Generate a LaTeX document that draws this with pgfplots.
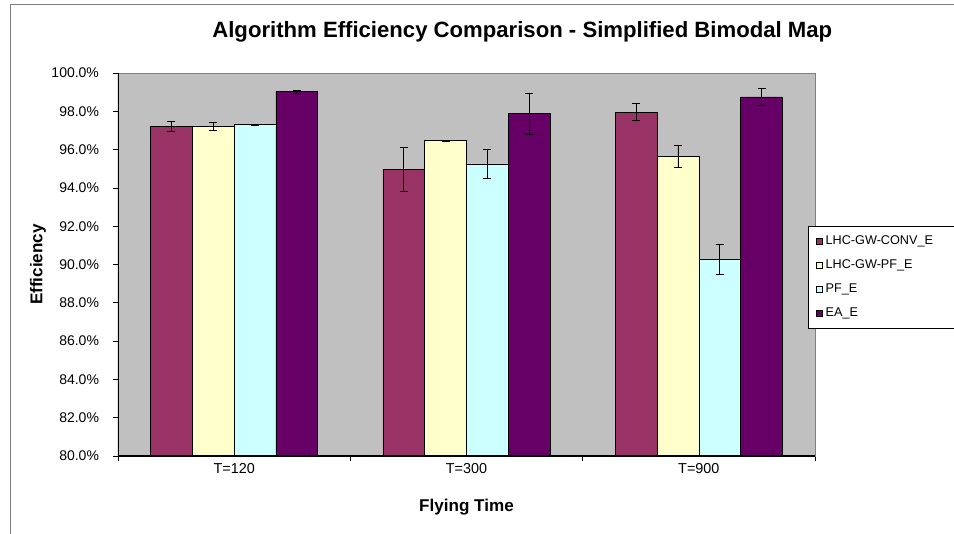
\documentclass[border=0pt]{standalone}
\usepackage{fontspec}
\setmainfont{Liberation Sans}
\usepackage{pgfplots}
\pgfplotsset{compat=1.18}
\definecolor{cA}{HTML}{993366}
\definecolor{cB}{HTML}{FFFFCC}
\definecolor{cC}{HTML}{CCFFFF}
\definecolor{cD}{HTML}{660066}
\definecolor{bg}{HTML}{C0C0C0}
\definecolor{frame}{HTML}{808080}
\begin{document}
\begin{tikzpicture}
\useasboundingbox (-88.5pt,-57.75pt) rectangle (627pt,342pt);
\draw[frame, line width=0.6pt] (-81pt,-70pt) -- (-81pt,339pt) -- (640pt,339pt);
\begin{axis}[
  at={(0pt,0pt)}, anchor=south west,
  scale only axis, width=522.75pt, height=287.25pt,
  xmin=-0.5, xmax=2.5, ymin=80, ymax=100,
  ybar=0pt, bar width=0.18,
  axis background/.style={fill=bg},
  axis line style={draw=frame, line width=0.6pt},
  /pgf/number format/assume math mode=true,
  tick align=outside, major tick length=3.75pt,
  tick style={black, line width=0.5pt},
  ytick pos=left, xtick pos=bottom,
  ytick={80,82,...,100},
  yticklabel={\pgfmathprintnumber[fixed,fixed zerofill,precision=1]{\tick}\%},
  yticklabel style={font=\fontsize{10.5}{12.5}\selectfont, xshift=-7pt},
  xtick={-0.5,0.5,1.5,2.5}, xticklabels={},
  extra x ticks={0,1,2}, extra x tick labels={T=120,T=300,T=900},
  extra x tick style={major tick length=0pt, xticklabel style={font=\fontsize{10.8}{13}\selectfont, yshift=-2pt}},
  xlabel={Flying Time}, ylabel={Efficiency},
  xlabel style={at={(axis description cs:0.5,0)}, anchor=center, yshift=-38.5pt, font=\bfseries\fontsize{12.8}{15}\selectfont},
  ylabel style={at={(axis description cs:-0.1148,0.5)}, anchor=center, font=\bfseries\fontsize{12.8}{15}\selectfont},
  title={Algorithm Efficiency Comparison - Simplified Bimodal Map},
  title style={at={(axis description cs:0.58,1.086)}, anchor=center, font=\bfseries\fontsize{16.6}{19}\selectfont},
  legend style={at={(axis description cs:0.99,0.6005)}, anchor=north west, draw=black, fill=white,
    font=\fontsize{9.5}{11}\selectfont, row sep=6pt, inner xsep=6pt, inner ysep=5pt,
    cells={anchor=west, text width=92pt}},
  legend cell align=left,
  legend image code/.code={\draw[#1, draw=black, line width=0.4pt] (0pt,-2.3pt) rectangle (4.6pt,2.3pt);},
  error bars/y dir=both, error bars/y explicit,
  error bars/error bar style={black, line width=0.6pt},
  error bars/error mark options={rotate=90, mark size=3pt, black, line width=0.6pt},
]
\addplot[fill=cA, draw=black, line width=0.5pt, bar shift=-0.27] coordinates {(0,97.22) +- (0,0.25) (1,94.95) +- (0,1.15) (2,97.95) +- (0,0.45)};
\addplot[fill=cB, draw=black, line width=0.5pt, bar shift=-0.09] coordinates {(0,97.20) +- (0,0.22) (1,96.47) +- (0,0.03) (2,95.63) +- (0,0.58)};
\addplot[fill=cC, draw=black, line width=0.5pt, bar shift=0.09] coordinates {(0,97.30) +- (0,0.03) (1,95.25) +- (0,0.75) (2,90.28) +- (0,0.78)};
\addplot[fill=cD, draw=black, line width=0.5pt, bar shift=0.27] coordinates {(0,99.03) +- (0,0.08) (1,97.88) +- (0,1.08) (2,98.75) +- (0,0.45)};
\legend{LHC-GW-CONV\_E, LHC-GW-PF\_E, PF\_E, EA\_E}
\draw[black, line width=0.8pt] (rel axis cs:0,1) -- (rel axis cs:0,0) -- (rel axis cs:1,0);
\end{axis}
\end{tikzpicture}
\end{document}
